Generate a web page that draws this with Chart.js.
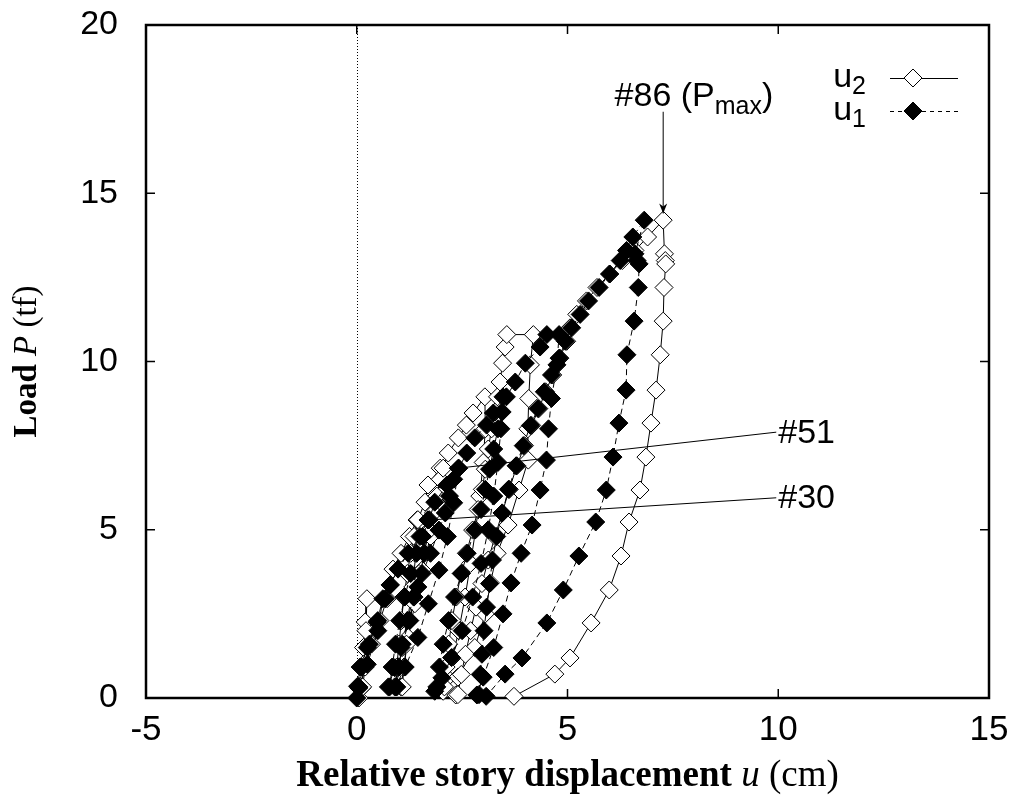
<!DOCTYPE html>
<html>
<head>
<meta charset="utf-8">
<script src="https://cdn.jsdelivr.net/npm/chart.js@4.4.0/dist/chart.umd.min.js"></script>
<style>
  html, body { margin: 0; padding: 0; background: #fff; }
  #wrap { width: 1016px; height: 798px; }
</style>
</head>
<body>
<div id="wrap"><canvas id="hystChart" width="1016" height="798"></canvas></div>
<script>
// load P (tf) at each step - shared by both displacement gauges
const loadP = [
  // cycle 1
  0.0, 0.35, 0.92, 1.5, 2.26, 2.95, 2.0, 1.0, 0.3,
  // cycle 2 (#30)
  0.33, 0.92, 1.6, 2.3, 2.95, 3.36, 3.83, 4.3, 4.8, 5.29, 4.3, 3.3, 2.3, 1.5, 0.9, 0.33,
  // cycle 3 (#51)
  0.33, 0.92, 1.6, 2.3, 3.0, 3.7, 4.3, 4.8, 5.3, 5.82, 6.33, 6.83, 5.8, 4.8, 3.8, 2.8, 1.8, 0.92, 0.33,
  // cycle 4
  0.33, 0.92, 1.6, 2.3, 3.0, 3.7, 4.3, 4.99, 5.5, 6.0, 6.5, 6.83, 7.28, 7.73, 8.11, 8.47, 8.95,
  8.0, 7.0, 6.0, 5.0, 4.0, 3.0, 2.0, 1.2, 0.6, 0.2,
  // cycle 5
  0.33, 0.92, 1.6, 2.3, 3.0, 3.7, 4.3, 4.99, 5.6, 6.2, 6.8, 7.4, 8.0, 8.5, 8.95, 9.39, 9.95, 10.43, 10.8, 10.8,
  9.9, 8.9, 8.0, 7.07, 6.18, 5.14, 4.3, 3.42, 2.5, 1.5, 0.62, 0.09,
  // cycle 6 (#86 = Pmax)
  0.1, 0.7, 1.3, 2.0, 2.7, 3.4, 4.1, 4.8, 5.5, 6.2, 6.9, 7.5, 8.1, 8.6, 9.1, 9.6, 10.1, 10.6, 11.0, 11.4,
  11.8, 12.2, 12.6, 13.0, 13.3, 13.7, 14.2,
  13.2, 13.0, 12.9, 12.2, 11.2, 10.2, 9.15, 8.17, 7.16, 6.18, 5.23, 4.22, 3.21, 2.23, 1.19, 0.71, 0.05
];

// displacement u1 (cm)
const dispU1 = [
  0.0, 0.02, 0.08, 0.25, 0.48, 0.62, 0.5, 0.25, 0.05,
  0.05, 0.12, 0.3, 0.5, 0.68, 0.79, 0.98, 1.22, 1.5, 1.69, 1.6, 1.45, 1.25, 1.05, 0.9, 0.75,
  0.78, 0.84, 0.92, 1.02, 1.14, 1.28, 1.42, 1.56, 1.72, 1.85, 2.14, 2.41, 2.3, 2.15, 1.95, 1.7, 1.45, 1.15, 0.92,
  0.95, 1.0, 1.08, 1.2, 1.35, 1.55, 1.75, 1.95, 2.1, 2.2, 2.3, 2.42, 2.61, 2.8, 3.08, 3.24, 3.47,
  3.42, 3.35, 3.25, 3.12, 2.95, 2.75, 2.5, 2.25, 2.02, 1.85,
  1.9, 1.96, 2.05, 2.18, 2.32, 2.48, 2.62, 2.8, 2.95, 3.05, 3.15, 3.25, 3.35, 3.45, 3.55, 3.76, 4.0, 4.35, 4.51, 4.8,
  4.75, 4.62, 4.55, 4.5, 4.35, 4.16, 3.9, 3.66, 3.47, 3.25, 3.0, 2.85,
  2.9, 2.93, 2.97, 3.02, 3.08, 3.15, 3.22, 3.32, 3.45, 3.6, 3.78, 3.95, 4.12, 4.3, 4.45, 4.62, 4.8, 4.95, 5.1, 5.3,
  5.5, 5.75, 6.0, 6.25, 6.4, 6.55, 6.82,
  6.6, 6.65, 6.7, 6.68, 6.58, 6.41, 6.39, 6.22, 6.08, 5.92, 5.67, 5.27, 4.9, 4.51, 3.92, 3.52, 3.07
];

// displacement u2 (cm)
const dispU2 = [
  0.05, 0.08, 0.12, 0.16, 0.2, 0.24, 0.22, 0.16, 0.12,
  0.14, 0.2, 0.35, 0.55, 0.72, 0.8, 0.86, 1.05, 1.25, 1.43, 1.4, 1.33, 1.2, 1.08, 0.98, 0.9,
  0.92, 0.95, 1.0, 1.06, 1.12, 1.2, 1.28, 1.36, 1.45, 1.62, 1.69, 1.98, 1.9, 1.75, 1.55, 1.38, 1.22, 1.12, 1.05,
  1.08, 1.12, 1.18, 1.26, 1.36, 1.48, 1.6, 1.72, 1.82, 1.9, 1.98, 2.05, 2.17, 2.41, 2.6, 2.76, 3.04,
  3.05, 3.0, 2.92, 2.82, 2.7, 2.57, 2.42, 2.27, 2.15, 2.05,
  2.08, 2.12, 2.18, 2.26, 2.36, 2.48, 2.6, 2.75, 2.88, 2.98, 3.05, 3.12, 3.2, 3.28, 3.34, 3.4, 3.46, 3.52, 3.56, 4.19,
  4.12, 4.08, 4.06, 4.07, 3.85, 3.59, 3.33, 3.17, 3.05, 2.8, 2.4, 2.35,
  2.4, 2.48, 2.58, 2.7, 2.83, 2.97, 3.12, 3.28, 3.45, 3.62, 3.8, 3.98, 4.15, 4.32, 4.48, 4.65, 4.82, 4.98, 5.06, 5.22,
  5.45, 5.7, 6.0, 6.3, 6.6, 6.9, 7.27,
  7.3, 7.32, 7.33, 7.29, 7.27, 7.2, 7.1, 6.98, 6.86, 6.72, 6.46, 6.27, 5.99, 5.56, 5.06, 4.7, 3.73
];

const xTicks = [-5, 0, 5, 10, 15];
const yTicks = [0, 5, 10, 15, 20];

// step labels: point they refer to and where the label sits (data units)
const stepNotes = [
  { text: '#51', point: [2.55, 6.85], label: [10.0, 7.9] },
  { text: '#30', point: [1.85, 5.3], label: [10.0, 5.95] }
];
const peakNote = { text: '#86 (P', sub: 'max', close: ')', point: [7.27, 14.4], label: [8.0, 17.6] };

function toXY(xs) {
  return loadP.map((p, i) => ({ x: xs[i], y: p }));
}

function drawRich(ctx, parts, x, y, align) {
  let w = 0;
  parts.forEach(p => { ctx.font = p.font; w += ctx.measureText(p.t).width; });
  let cx = align === 'center' ? x - w / 2 : (align === 'right' ? x - w : x);
  parts.forEach(p => {
    ctx.font = p.font;
    ctx.fillText(p.t, cx, y + (p.dy || 0));
    cx += ctx.measureText(p.t).width;
  });
}

const SANS = '"Liberation Sans", Arial, sans-serif';
const SERIF = '"Liberation Serif", "Times New Roman", serif';

// frame, inward ticks and dotted zero line (gnuplot style)
const framePlugin = {
  id: 'frame',
  beforeDatasetsDraw(chart) {
    const { ctx, chartArea: a, scales: { x, y } } = chart;
    ctx.save();
    ctx.strokeStyle = '#000';
    ctx.lineWidth = 1;
    ctx.setLineDash([1, 2]);
    const x0 = Math.round(x.getPixelForValue(0)) + 0.5;
    ctx.beginPath();
    ctx.moveTo(x0, a.top);
    ctx.lineTo(x0, a.bottom);
    ctx.stroke();
    ctx.setLineDash([]);

    ctx.lineWidth = 1.5;
    ctx.beginPath();
    xTicks.forEach(v => {
      const px = x.getPixelForValue(v);
      ctx.moveTo(px, a.bottom); ctx.lineTo(px, a.bottom - 9);
      ctx.moveTo(px, a.top); ctx.lineTo(px, a.top + 9);
    });
    yTicks.forEach(v => {
      const py = y.getPixelForValue(v);
      ctx.moveTo(a.left, py); ctx.lineTo(a.left + 9, py);
      ctx.moveTo(a.right, py); ctx.lineTo(a.right - 9, py);
    });
    ctx.stroke();

    ctx.lineWidth = 2.5;
    ctx.strokeRect(a.left, a.top, a.right - a.left, a.bottom - a.top);
    ctx.restore();
  },
  afterDatasetsDraw(chart) {
    const { ctx, scales: { x, y } } = chart;
    ctx.save();
    ctx.fillStyle = '#000';
    ctx.strokeStyle = '#000';
    ctx.lineWidth = 1;
    ctx.textBaseline = 'middle';

    // #51 / #30 leader lines
    stepNotes.forEach(n => {
      const lx = x.getPixelForValue(n.label[0]);
      const ly = y.getPixelForValue(n.label[1]);
      ctx.beginPath();
      ctx.moveTo(x.getPixelForValue(n.point[0]), y.getPixelForValue(n.point[1]));
      ctx.lineTo(lx - 2, ly);
      ctx.stroke();
      ctx.font = '34px ' + SANS;
      ctx.textAlign = 'left';
      ctx.fillText(n.text, lx, ly + 1);
    });

    // #86 arrow
    const px = x.getPixelForValue(peakNote.point[0]);
    const py = y.getPixelForValue(peakNote.point[1]);
    const ty = y.getPixelForValue(peakNote.label[1]);
    ctx.beginPath();
    ctx.moveTo(px, ty + 6);
    ctx.lineTo(px, py);
    ctx.stroke();
    ctx.beginPath();
    ctx.moveTo(px, py);
    ctx.lineTo(px - 4, py - 10);
    ctx.lineTo(px, py - 7);
    ctx.lineTo(px + 4, py - 10);
    ctx.closePath();
    ctx.fill();

    ctx.textBaseline = 'alphabetic';
    drawRich(ctx, [
      { t: peakNote.text, font: '34px ' + SANS },
      { t: peakNote.sub, font: '25px ' + SANS, dy: 8 },
      { t: peakNote.close, font: '34px ' + SANS }
    ], x.getPixelForValue(peakNote.label[0]), ty, 'center');

    // legend
    const rows = [
      { name: 'u', sub: '2', fill: '#fff', dash: [] },
      { name: 'u', sub: '1', fill: '#000', dash: [4, 4] }
    ];
    rows.forEach((r, i) => {
      const ry = 78 + i * 33;
      ctx.textBaseline = 'middle';
      drawRich(ctx, [
        { t: r.name, font: '34px ' + SANS },
        { t: r.sub, font: '25px ' + SANS, dy: 9 }
      ], 866, ry, 'right');
      ctx.setLineDash(r.dash);
      ctx.lineWidth = 1;
      ctx.beginPath();
      ctx.moveTo(890, ry + 0.5);
      ctx.lineTo(958, ry + 0.5);
      ctx.stroke();
      ctx.setLineDash([]);
      ctx.beginPath();
      ctx.moveTo(913 - 9, ry); ctx.lineTo(913, ry - 9); ctx.lineTo(913 + 9, ry); ctx.lineTo(913, ry + 9);
      ctx.closePath();
      ctx.fillStyle = r.fill;
      ctx.fill();
      ctx.stroke();
      ctx.fillStyle = '#000';
    });
    ctx.restore();
  },
  afterDraw(chart) {
    const { ctx, chartArea: a } = chart;
    ctx.save();
    ctx.fillStyle = '#000';
    ctx.textBaseline = 'alphabetic';
    drawRich(ctx, [
      { t: 'Relative story displacement ', font: 'bold 37px ' + SERIF },
      { t: 'u', font: 'italic 37px ' + SERIF },
      { t: ' (cm)', font: '37px ' + SERIF }
    ], (a.left + a.right) / 2, 786, 'center');

    ctx.translate(25, (a.top + a.bottom) / 2);
    ctx.rotate(-Math.PI / 2);
    drawRich(ctx, [
      { t: 'Load ', font: 'bold 33px ' + SERIF },
      { t: 'P', font: 'italic 33px ' + SERIF },
      { t: ' (tf)', font: '33px ' + SERIF }
    ], 0, 11, 'center');
    ctx.restore();
  }
};

const ctx = document.getElementById('hystChart').getContext('2d');
window.hystChart = new Chart(ctx, {
  type: 'scatter',
  data: {
    datasets: [
      {
        label: 'u1',
        data: toXY(dispU1),
        showLine: true,
        borderColor: '#000',
        borderWidth: 1,
        borderDash: [6, 4],
        pointStyle: 'rectRot',
        pointRadius: 9,
        pointBackgroundColor: '#000',
        pointBorderColor: '#000',
        pointBorderWidth: 1,
        tension: 0,
        clip: false
      },
      {
        label: 'u2',
        data: toXY(dispU2),
        showLine: true,
        borderColor: '#000',
        borderWidth: 1,
        pointStyle: 'rectRot',
        pointRadius: 9,
        pointBackgroundColor: '#fff',
        pointBorderColor: '#000',
        pointBorderWidth: 1,
        tension: 0,
        clip: false
      }
    ]
  },
  options: {
    responsive: false,
    animation: false,
    layout: { padding: { left: 0, top: 25, right: 27, bottom: 0 } },
    plugins: { legend: { display: false }, tooltip: { enabled: false } },
    scales: {
      x: {
        type: 'linear',
        min: -5, max: 15,
        afterBuildTicks: s => { s.ticks = xTicks.map(v => ({ value: v })); },
        afterFit: s => { s.height = 100; s.paddingLeft = 0; s.paddingRight = 0; },
        grid: { display: false, drawTicks: false },
        border: { display: false },
        ticks: { color: '#000', padding: 11, font: { family: SANS, size: 35 } }
      },
      y: {
        type: 'linear',
        min: 0, max: 20,
        afterBuildTicks: s => { s.ticks = yTicks.map(v => ({ value: v })); },
        afterFit: s => { s.width = 146; s.paddingTop = 0; s.paddingBottom = 0; },
        grid: { display: false, drawTicks: false },
        border: { display: false },
        ticks: { color: '#000', padding: 28, font: { family: SANS, size: 34 } }
      }
    }
  },
  plugins: [framePlugin]
});
</script>
</body>
</html>
